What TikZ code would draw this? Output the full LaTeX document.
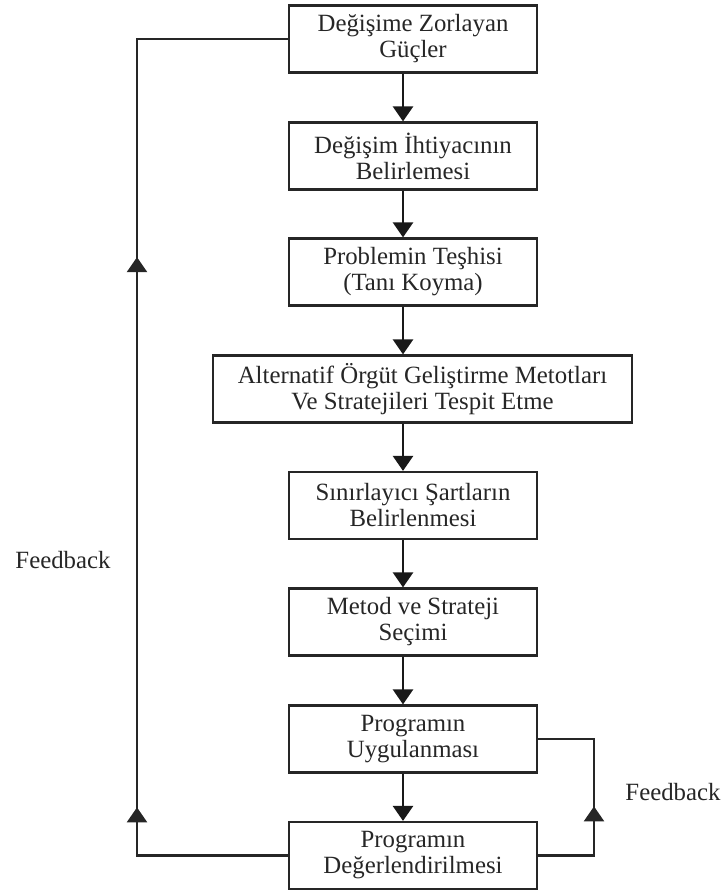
\documentclass[tikz,border=0pt]{standalone}
\usepackage{fontspec}
\setmainfont{Liberation Serif}
\usetikzlibrary{arrows.meta,decorations.markings}

\begin{document}
\begin{tikzpicture}[x=0.5pt,y=-0.5pt,
		box/.style={draw=black!85,line width=1.1pt,minimum width=124pt,minimum height=33.5pt,
			align=center,inner sep=2pt,text=black!85,font=\fontsize{12.4}{13}\selectfont},
		flow/.style={black!90,line width=1.3pt,-{Triangle[length=7.5pt,width=10pt]}},
		loop/.style={black!85,line width=1.2pt},
		tip/.style={postaction={decorate,decoration={markings,
			mark=at position #1 with {\arrow{Triangle[length=7.5pt,width=10pt]}}}}},
		lbl/.style={text=black!85,font=\fontsize{12.4}{13}\selectfont}]
		\useasboundingbox (0,0) rectangle (725,893);
		
		% les etapes
		\node[box] (b1) at (413,39)  {Değişime Zorlayan\\Güçler};
		\node[box] (b2) at (413,156) {Değişim İhtiyacının\\Belirlemesi};
		\node[box] (b3) at (413,272) {Problemin Teşhisi\\(Tanı Koyma)};
		\node[box,minimum width=209.5pt] (b4) at (422.5,389) {Alternatif Örgüt Geliştirme Metotları\\Ve Stratejileri Tespit Etme};
		\node[box] (b5) at (413,505.5) {Sınırlayıcı Şartların\\Belirlenmesi};
		\node[box] (b6) at (413,622) {Metod ve Strateji\\Seçimi};
		\node[box] (b7) at (413,739) {Programın\\Uygulanması};
		\node[box] (b8) at (413,855.5) {Programın\\Değerlendirilmesi};
		
		\foreach \a/\b in {b1/b2,b2/b3,b3/b4,b4/b5,b5/b6,b6/b7,b7/b8}{
			\draw[flow] (\a.south -| 403,0) to (\b.north -| 403,0); }
		
		% feedback
		\coordinate (gL) at (137,0);
		\coordinate (gR) at (594,0);
		\draw[loop,tip=0.178,tip=0.67] (b8.west) -- (b8.west -| gL) |- (b1.west);
		\draw[loop,tip=0.46] (b8.east) -- (b8.east -| gR) |- (b7.east);
		
		\node[lbl] (fL) at (63,560) {Feedback};
		\node[lbl] (fR) at (673,792) {Feedback};
		
	\end{tikzpicture}
\end{document}
